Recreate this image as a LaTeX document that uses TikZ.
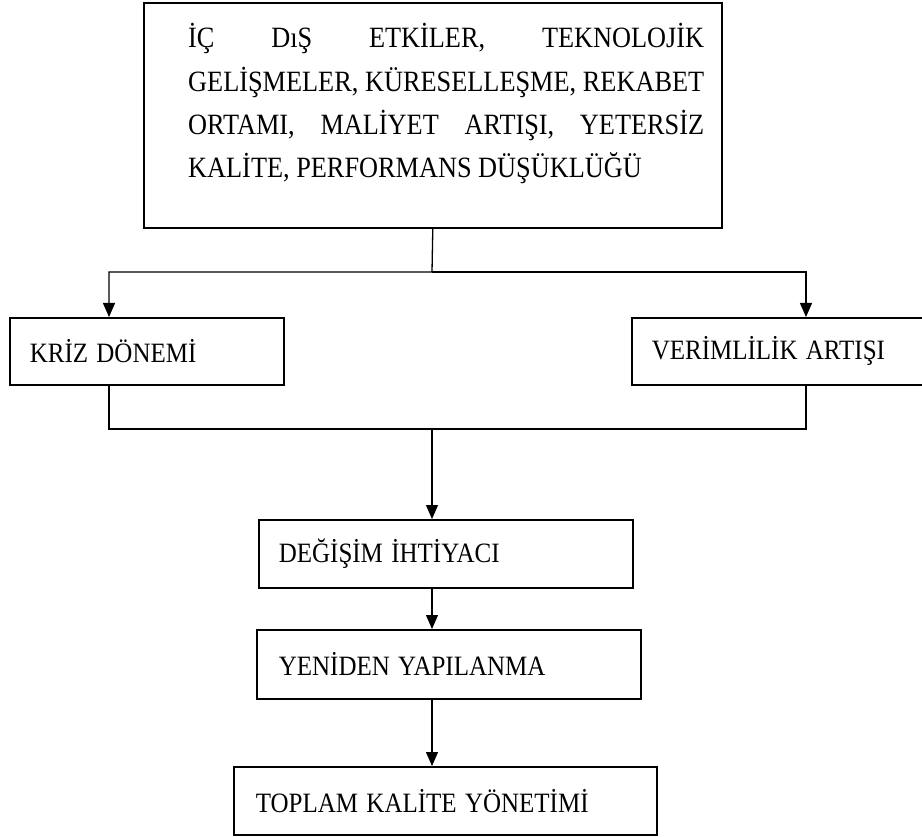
\documentclass[tikz,border=0pt]{standalone}
\usepackage{fontspec}
\usepackage{graphicx}
\setmainfont{Liberation Serif}
\usetikzlibrary{arrows.meta}
% slightly tall lettering
\newcommand{\tall}[1]{\scalebox{1}[1.12]{#1}}
\begin{document}
\begin{tikzpicture}[x=1pt,y=-1pt,
  frame/.style={draw, line width=1.6pt, inner sep=0pt, anchor=north west},
  stage/.style={frame, inner xsep=20pt, inner ysep=0pt, align=left,
    font=\fontsize{25}{30}\selectfont},
  link/.style={line width=1.3pt},
  flow/.style={link, -{Triangle[width=12pt,length=14pt]}}]
\useasboundingbox (0,0) rectangle (922,837);

% causes box
\node[frame, minimum width=578pt, minimum height=225pt] (top) at (143,2) {};
\node[inner sep=0pt, anchor=base west, font=\fontsize{26.3}{38.5}\selectfont] (toptext) at (188,48)
  {\tall{\parbox[t]{516pt}{%
    \makebox[\linewidth][s]{İÇ DıŞ ETKİLER, TEKNOLOJİK}\\
    \makebox[\linewidth][s]{GELİŞMELER, KÜRESELLEŞME, REKABET}\\
    \makebox[\linewidth][s]{ORTAMI, MALİYET ARTIŞI, YETERSİZ}\\
    KALİTE, PERFORMANS DÜŞÜKLÜĞÜ}}};

% stages
\node[stage, minimum height=67pt, text width=234pt] (kriz) at (9,317) {\tall{KRİZ DÖNEMİ}};
\node[stage, minimum height=67pt, text width=259pt] (verim) at (631,317) {\tall{VERİMLİLİK ARTIŞI}};
\node[stage, minimum height=68pt, text width=334pt] (degisim) at (258,519) {\tall{DEĞİŞİM İHTİYACI}};
\node[stage, minimum height=69pt, inner xsep=22pt, text width=340pt] (yeniden) at (256,629) {\tall{YENİDEN YAPILANMA}};
\node[stage, minimum height=68pt, inner xsep=22pt, text width=379pt] (tky) at (233,766) {\tall{TOPLAM KALİTE YÖNETİMİ}};

% connector columns and junctions
\coordinate (lcol) at (109,0);
\coordinate (rcol) at (806,0);
\coordinate (joinA) at (432,272);
\coordinate (joinB) at (432,429);

\draw[flow] (top.south) -- (joinA) -| (kriz.north -| lcol);
\draw[flow] (joinA) -| (verim.north -| rcol);
\draw[link] (kriz.south -| lcol) |- (joinB);
\draw[link] (verim.south -| rcol) |- (joinB);
\draw[flow] (joinB) -- (degisim.north -| joinB);
\draw[flow] (degisim.south -| joinB) -- (yeniden.north -| joinB);
\draw[flow] (yeniden.south -| joinB) -- (tky.north -| joinB);
\end{tikzpicture}
\end{document}
